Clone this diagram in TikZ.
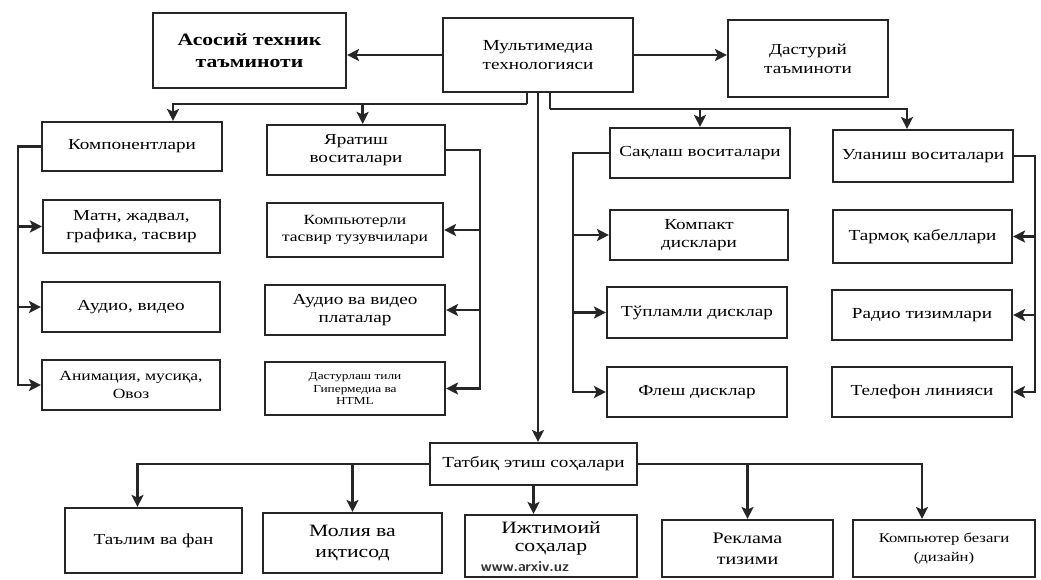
\documentclass[tikz,border=0pt]{standalone}
\usepackage{fontspec}
\setmainfont[FakeStretch=1.25]{Liberation Serif}
\usetikzlibrary{arrows.meta,calc}
\newcommand\mkbox[7][]{%
  \node[bx,minimum width={(#5-#3)*0.75pt},minimum height={(#6-#4)*0.75pt},#1] (#2) at ({(#3+#5)/2},{(#4+#6)/2}) {#7};}
\tikzset{
  bx/.style={draw=black!85,line width=1.6pt,inner sep=0pt,align=center,fill=white,
     font=\fontsize{11.5}{14}\selectfont},
  ln/.style={draw=black!85,line width=2pt},
  arr/.style={ln,-{Stealth[length=9pt,width=9pt,inset=2pt]}},
}
\begin{document}
\begin{tikzpicture}[x=0.75pt,y=-0.75pt]
\useasboundingbox (0,0) rectangle (1041,579);
\fill[white] (0,0) rectangle (1041,579);
% top row
\mkbox[font=\bfseries\fontsize{13}{17}\selectfont]{asos}{153}{13}{346}{88}{Асосий техник\\таъминоти}
\mkbox{mult}{443}{18}{633}{92}{Мультимедиа\\технологияси}
\mkbox{dast}{728}{20}{888}{97}{Дастурий\\таъминоти}
% left column
\mkbox{komp}{42}{122}{222}{171}{Компонентлари}
\mkbox{matn}{43}{200}{220}{253}{Матн, жадвал,\\графика, тасвир}
\mkbox{audio}{42}{282}{220}{332}{Аудио, видео}
\mkbox[font=\fontsize{10.5}{13}\selectfont]{anim}{42}{360}{220}{410}{Анимация, мусиқа,\\Овоз}
% second column
\mkbox{yarat}{267}{125}{445}{175}{Яратиш\\воситалари}
\mkbox[font=\fontsize{10.5}{13}\selectfont]{kompli}{267}{203}{443}{257}{Компьютерли\\тасвир тузувчилари}
\mkbox{avplat}{265}{285}{445}{335}{Аудио ва видео\\платалар}
\mkbox[font=\fontsize{8}{9.5}\selectfont]{dastur}{265}{362}{445}{415}{Дастурлаш тили\\Гипермедиа ва\\HTML}
% third column
\mkbox{saql}{610}{128}{790}{178}{Сақлаш воситалари}
\mkbox{kompakt}{610}{210}{788}{260}{Компакт\\дисклари}
\mkbox{tupl}{607}{287}{787}{338}{Тўпламли дисклар}
\mkbox{flesh}{607}{367}{787}{417}{Флеш дисклар}
% fourth column
\mkbox{ulan}{833}{130}{1013}{182}{Уланиш воситалари}
\mkbox{tarm}{833}{210}{1012}{263}{Тармоқ кабеллари}
\mkbox{radio}{832}{290}{1012}{340}{Радио тизимлари}
\mkbox{tel}{832}{367}{1012}{417}{Телефон линияси}
% bottom
\mkbox{tatb}{430}{443}{637}{485}{Татбиқ этиш соҳалари}
\mkbox{talim}{65}{508}{242}{573}{Таълим ва фан}
\mkbox[font=\fontsize{13}{16}\selectfont]{moliya}{263}{513}{442}{573}{Молия ва\\иқтисод}
\mkbox[font=\fontsize{13}{14}\selectfont]{ijt}{465}{515}{637}{577}{Ижтимоий\\соҳалар\\[0pt]\mbox{}}
\mkbox[font=\fontsize{12}{16}\selectfont]{rekl}{662}{520}{833}{577}{Реклама\\тизими}
\mkbox[font=\fontsize{10}{14}\selectfont]{kbez}{853}{520}{1035}{577}{Компьютер безаги\\(дизайн)}
\node[font=\sffamily\bfseries\fontsize{11}{12}\selectfont,text=black!80] (wm) at (525,567) {www.arxiv.uz};
% top arrows
\draw[arr] (mult.west) -- (mult.west -| asos.east);
\draw[arr] (mult.east) -- (mult.east -| dast.west);
\draw[arr] (mult.south) -- (mult.south |- tatb.north);
\draw[ln] ([xshift=-8.25pt]mult.south) -- ++(0,11) coordinate (tl);
\draw[arr] (tl) -| ([xshift=30.75pt]komp.north);
\draw[arr] ([xshift=5pt]yarat.north |- tl) -- ([xshift=5pt]yarat.north);
\draw[ln] ([xshift=9pt]mult.south) -- ++(0,16) coordinate (tr);
\draw[arr] (tr) -| ([xshift=-12pt]ulan.north);
\draw[arr] (saql.north |- tr) -- (saql.north);
% column connectors
\coordinate (lx) at (18,0);
\draw[arr] (komp.west) -| (lx |- anim.west) -- (anim.west);
\draw[arr] (lx |- matn.west) -- (matn.west);
\draw[arr] (lx |- audio.west) -- (audio.west);
\coordinate (rx) at (480,0);
\draw[arr] (yarat.east) -| (rx |- dastur.east) -- (dastur.east);
\draw[arr] (rx |- kompli.east) -- (kompli.east);
\draw[arr] (rx |- avplat.east) -- (avplat.east);
\coordinate (sx) at (573,0);
\draw[arr] (saql.west) -| (sx |- flesh.west) -- (flesh.west);
\draw[arr] (sx |- kompakt.west) -- (kompakt.west);
\draw[arr] (sx |- tupl.west) -- (tupl.west);
\coordinate (ux) at (1035,0);
\draw[arr] (ulan.east) -| (ux |- tel.east) -- (tel.east);
\draw[arr] (ux |- tarm.east) -- (tarm.east);
\draw[arr] (ux |- radio.east) -- (radio.east);
% bottom connectors
\draw[arr] (tatb.west) -| ([xshift=-12pt]talim.north);
\draw[arr] (tatb.west -| moliya.north) -- (moliya.north);
\draw[arr] (tatb.east) -| ([xshift=-16.5pt]kbez.north);
\draw[arr] (tatb.east -| rekl.north) -- (rekl.north);
\draw[arr] (tatb.south) -- (tatb.south |- ijt.north);
\end{tikzpicture}
\end{document}
